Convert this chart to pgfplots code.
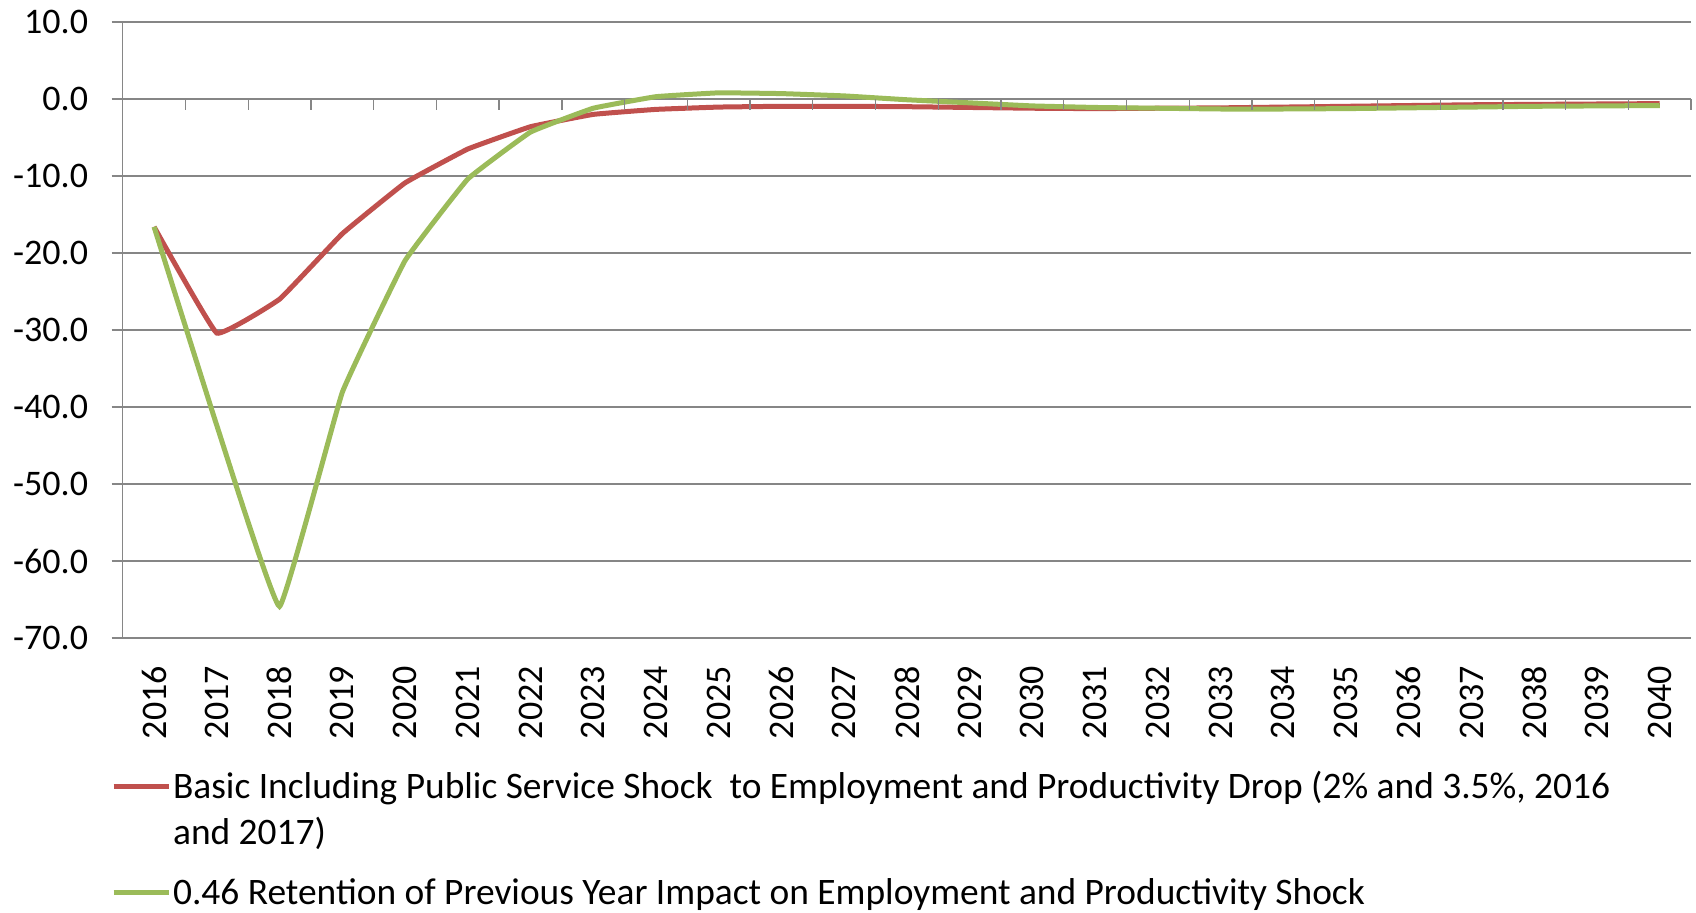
\documentclass[border=0pt]{standalone}
\usepackage{fontspec}
\setmainfont{Carlito}
\usepackage{pgfplots}
\pgfplotsset{compat=1.18}
\usepackage{pgfplotstable}

\definecolor{redline}{HTML}{C0504D}
\definecolor{greenline}{HTML}{9BBB59}
\definecolor{gridgray}{HTML}{868686}

% year index (0 = 2016), basic shock, 0.46 retention
\pgfplotstableread{
idx basic retention
0  -16.6 -16.6
1  -30.4 -42.4
2  -26.0 -65.9
3  -17.5 -38.1
4  -10.9 -21.0
5  -6.5  -10.4
6  -3.6  -4.3
7  -2.0  -1.2
8  -1.35  0.3
9  -1.05  0.8
10 -0.95  0.7
11 -0.95  0.4
12 -1.0  -0.1
13 -1.1  -0.5
14 -1.2  -0.9
15 -1.25 -1.1
16 -1.2  -1.2
17 -1.15 -1.3
18 -1.05 -1.3
19 -0.95 -1.25
20 -0.85 -1.15
21 -0.75 -1.05
22 -0.7  -0.95
23 -0.65 -0.9
24 -0.6  -0.85
}\shocktable

\begin{document}
\begin{tikzpicture}[font=\fontsize{18}{21.6}\selectfont]
\useasboundingbox (0,0) rectangle (848pt,456.5pt);
\begin{axis}[
    at={(61.35pt,137.5pt)}, anchor=south west,
    scale only axis, width=784.2pt, height=308pt,
    xmin=-0.5, xmax=24.5, ymin=-70, ymax=10,
    axis lines*=left,
    x axis line style={draw=none},
    y axis line style={gridgray, line width=0.65pt},
    xtick={0,...,24},
    xticklabels={2016,2017,2018,2019,2020,2021,2022,2023,2024,2025,2026,2027,2028,2029,2030,2031,2032,2033,2034,2035,2036,2037,2038,2039,2040},
    xtick style={draw=none},
    xticklabel style={rotate=90, anchor=east, xshift=-5pt},
    ytick={-70,-60,...,10},
    yticklabels={-70.0,-60.0,-50.0,-40.0,-30.0,-20.0,-10.0,0.0,10.0},
    ytick style={gridgray, line width=0.65pt},
    yticklabel style={xshift=-8.3pt},
    tick align=outside, major tick length=5.5pt,
    ymajorgrids, grid style={gridgray, line width=0.65pt},
    legend style={at={(axis description cs:0,0)}, anchor=north west,
        xshift=-6pt, yshift=-62.7pt, draw=none, fill=none,
        inner sep=0pt, row sep=36.6pt,
        font=\fontsize{18.7}{23.25}\selectfont,
        cells={anchor=base west},
        nodes={inner sep=1pt}},
    legend image code/.code={\draw[#1] (0pt,6pt) -- (27.5pt,6pt);},
]
\addplot[redline, line width=2.5pt, smooth, tension=0.15] table[x=idx, y=basic] {\shocktable};
\addlegendentry{\begin{tabular}[t]{@{}l@{}}Basic Including Public Service Shock\ \ to Employment and Productivity Drop (2\% and 3.5\%, 2016\\and 2017)\end{tabular}}
\addplot[greenline, line width=2.5pt, smooth, tension=0.15] table[x=idx, y=retention] {\shocktable};
\addlegendentry{0.46 Retention of Previous Year Impact on Employment and Productivity Shock}
\end{axis}
\begin{axis}[
    at={(61.35pt,137.5pt)}, anchor=south west,
    scale only axis, width=784.2pt, height=308pt,
    xmin=-0.5, xmax=24.5, ymin=-70, ymax=10,
    axis x line=middle, axis y line=none,
    x axis line style={draw=none},
    xtick={-0.5,0.5,...,24.5}, xticklabels={},
    xtick style={gridgray, line width=0.65pt},
    tick align=outside, major tick length=5.5pt,
]
\end{axis}
\end{tikzpicture}
\end{document}
